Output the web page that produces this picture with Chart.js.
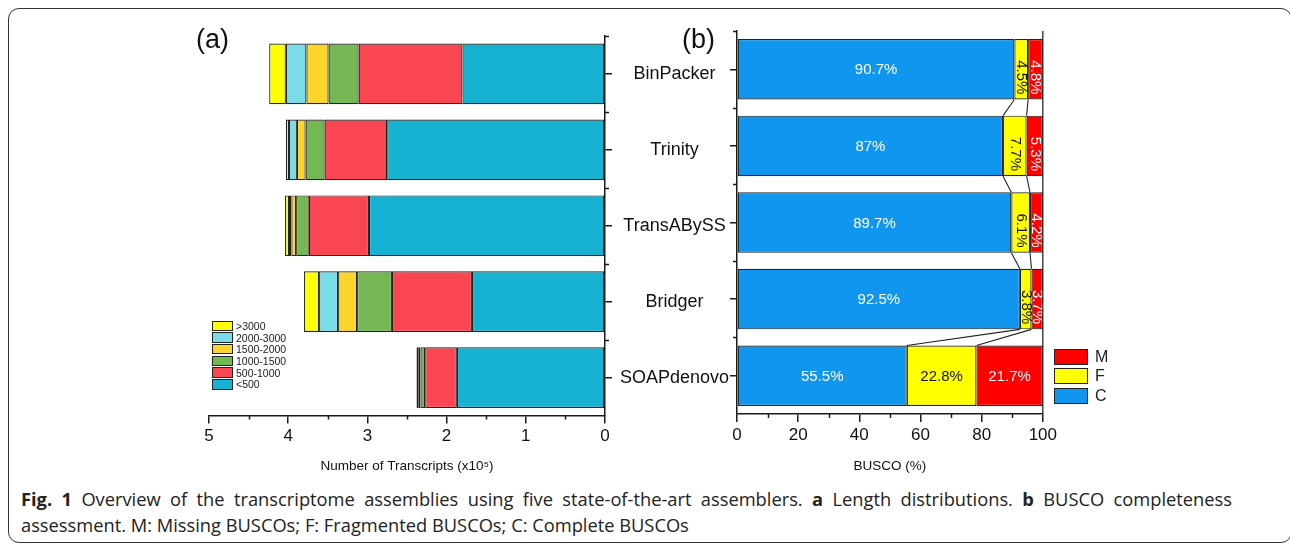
<!DOCTYPE html>
<html>
<head>
<meta charset="utf-8">
<script src="https://cdn.jsdelivr.net/npm/chart.js@4.4.1/dist/chart.umd.min.js"></script>
<style>
  html, body { margin: 0; padding: 0; background: #fff; }
  body { width: 1290px; height: 544px; position: relative; overflow: hidden;
         font-family: "Liberation Sans", Arial, sans-serif; color: #111; }
  .frame { position: absolute; left: 8px; top: 8px; width: 1284px; height: 535px;
           border: 1.6px solid #333; border-radius: 11px; box-sizing: border-box; }
  .chartbox { position: absolute; top: 0; }
  .panel-tag { position: absolute; font-size: 27px; line-height: 27px; color: #111; }
  .legend { position: absolute; }
  .legend .row { display: flex; align-items: center; }
  .legend .sw { box-sizing: border-box; border: 1.4px solid #222; }
  .caption { position: absolute; left: 21px; top: 486px; width: 1211px; font-family: "Open Sans", sans-serif;
             font-size: 18.3px; line-height: 26px; color: #222; text-align: justify; }
</style>
</head>
<body>
<div class="frame"></div>

<div class="chartbox" style="left:180px;width:560px;height:480px;"><canvas id="lenChart" width="560" height="480"></canvas></div>
<div class="chartbox" style="left:700px;width:360px;height:480px;"><canvas id="buscoChart" width="360" height="480"></canvas></div>

<div class="panel-tag" style="left:196px;top:26px;">(a)</div>
<div class="panel-tag" style="left:682px;top:26px;">(b)</div>

<div class="legend" id="lenLegend" style="left:212px;top:320px;"></div>
<div class="legend" id="buscoLegend" style="left:1054px;top:347px;"></div>

<div class="caption"><b>Fig. 1</b> Overview of the transcriptome assemblies using five state-of-the-art assemblers. <b>a</b> Length distributions. <b>b</b> BUSCO completeness assessment. M: Missing BUSCOs; F: Fragmented BUSCOs; C: Complete BUSCOs</div>

<script>
// ---- data ----
const assemblers = ['BinPacker', 'Trinity', 'TransABySS', 'Bridger', 'SOAPdenovo'];

// transcript counts per length bin (x10^5)
const lengthBins = ['<500', '500-1000', '1000-1500', '1500-2000', '2000-3000', '>3000'];
const lenUnder500   = [1.80, 2.75, 2.98, 1.68, 1.87];
const len500to1000  = [1.31, 0.79, 0.76, 1.01, 0.40];
const len1000to1500 = [0.38, 0.24, 0.16, 0.44, 0.06];
const len1500to2000 = [0.28, 0.11, 0.06, 0.24, 0.02];
const len2000to3000 = [0.26, 0.10, 0.03, 0.24, 0.01];
const lenOver3000   = [0.21, 0.04, 0.05, 0.19, 0.02];
const lenColors = ['#17b2d1', '#fa4652', '#75b752', '#fbd52c', '#7adce7', '#ffff00'];

// BUSCO completeness (%)
const buscoClasses = ['C', 'F', 'M'];
const buscoComplete   = [90.7, 87, 89.7, 92.5, 55.5];
const buscoFragmented = [4.5, 7.7, 6.1, 3.8, 22.8];
const buscoMissing    = [4.8, 5.3, 4.2, 3.7, 21.7];
const buscoColors = ['#1196f0', '#ffff00', '#ff0000'];
const buscoTextColors = ['#ffffff', '#111111', '#ffffff'];

const xTicksA = [0, 1, 2, 3, 4, 5];
const xTicksB = [0, 20, 40, 60, 80, 100];

// ---- shared styling ----
const AXIS = '#1a1a1a';
const FONT = '"Liberation Sans", Arial, sans-serif';
Chart.defaults.font.family = FONT;
Chart.defaults.color = '#111';

// short ticks between the labelled ones, on both axes
const minorTicks = {
  id: 'minorTicks',
  afterDraw(chart, args, opts) {
    const ctx = chart.ctx;
    ctx.save();
    ctx.strokeStyle = AXIS;
    ctx.lineWidth = 1.5;
    const xs = chart.scales.x;
    const vals = xs.ticks.map(t => t.value);
    for (let i = 0; i < vals.length - 1; i++) {
      const px = Math.round(xs.getPixelForValue((vals[i] + vals[i + 1]) / 2)) + 0.5;
      ctx.beginPath(); ctx.moveTo(px, xs.top); ctx.lineTo(px, xs.top + opts.len); ctx.stroke();
    }
    const ys = chart.scales.y;
    const n = ys.ticks.length;
    const edge = ys.position === 'right' ? ys.left : ys.right;
    const dir = ys.position === 'right' ? 1 : -1;
    const ca = chart.chartArea;
    const ps = [ca.top];
    for (let i = 0; i < n - 1; i++) ps.push((ys.getPixelForTick(i) + ys.getPixelForTick(i + 1)) / 2);
    ps.forEach(p => {
      const py = Math.round(p) + 0.5;
      ctx.beginPath(); ctx.moveTo(edge, py); ctx.lineTo(edge + dir * opts.len, py); ctx.stroke();
    });
    if (opts.rightEdge) {
      ctx.lineWidth = 1.2;
      ctx.beginPath(); ctx.moveTo(ca.right, ca.top); ctx.lineTo(ca.right, ca.bottom); ctx.stroke();
    }
    ctx.restore();
  }
};

function legendRows(el, labels, colors, cfg) {
  labels.forEach((lab, i) => {
    const row = document.createElement('div');
    row.className = 'row';
    row.style.height = cfg.pitch + 'px';
    const sw = document.createElement('div');
    sw.className = 'sw';
    sw.style.width = cfg.w + 'px';
    sw.style.height = cfg.h + 'px';
    sw.style.background = colors[i];
    const tx = document.createElement('span');
    tx.textContent = lab;
    tx.style.fontSize = cfg.font + 'px';
    tx.style.marginLeft = cfg.gap + 'px';
    tx.style.color = '#222';
    row.appendChild(sw); row.appendChild(tx);
    el.appendChild(row);
  });
}

// ---- (a) length distribution ----
const lenSeries = [lenUnder500, len500to1000, len1000to1500, len1500to2000, len2000to3000, lenOver3000];
new Chart(document.getElementById('lenChart'), {
  type: 'bar',
  data: {
    labels: assemblers,
    datasets: lenSeries.map((d, i) => ({
      label: lengthBins[i], data: d, backgroundColor: lenColors[i],
      borderColor: '#222', borderWidth: 1.2, borderSkipped: false,
      barPercentage: 0.8, categoryPercentage: 1
    }))
  },
  options: {
    indexAxis: 'y', responsive: false, animation: false,
    layout: { padding: { left: 29, top: 36, right: 0, bottom: 0 } },
    plugins: { legend: { display: false }, tooltip: { enabled: false }, minorTicks: { len: 4 } },
    scales: {
      x: {
        type: 'linear', min: 0, max: 5, reverse: true, stacked: true,
        afterBuildTicks: s => { s.ticks = xTicksA.map(v => ({ value: v })); },
        afterFit: s => { s.height = 64.5; },
        border: { display: true, color: AXIS, width: 1.5 },
        grid: { drawOnChartArea: false, drawTicks: true, tickLength: 8, color: AXIS, lineWidth: 1.5 },
        ticks: { font: { size: 17 }, color: '#111', padding: 3, maxRotation: 0 },
        title: { display: true, text: 'Number of Transcripts (x10\u2075)', font: { size: 13.5 }, color: '#111',
                 padding: { top: 0, bottom: 6 } }
      },
      y: {
        type: 'category', position: 'right', stacked: true, offset: true,
        afterFit: s => { s.width = 135; },
        border: { display: true, color: AXIS, width: 1.5 },
        grid: { offset: false, drawOnChartArea: false, drawTicks: true, tickLength: 7, color: AXIS, lineWidth: 1.5 },
        ticks: { crossAlign: 'center', font: { size: 18 }, color: '#111', padding: 8 }
      }
    }
  },
  plugins: [minorTicks]
});

// ---- (b) BUSCO ----
const buscoSeries = [buscoComplete, buscoFragmented, buscoMissing];

// value labels inside segments and the lines joining segment edges of neighbouring bars
const buscoDecor = {
  id: 'buscoDecor',
  afterDatasetsDraw(chart) {
    const ctx = chart.ctx;
    ctx.save();
    // connectors at the C|F and F|M boundaries
    ctx.strokeStyle = '#222';
    ctx.lineWidth = 1.1;
    [0, 1].forEach(di => {
      const els = chart.getDatasetMeta(di).data;
      for (let i = 0; i < els.length - 1; i++) {
        const a = els[i], b = els[i + 1];
        ctx.beginPath();
        ctx.moveTo(a.x, a.y + a.height / 2);
        ctx.lineTo(b.x, b.y - b.height / 2);
        ctx.stroke();
      }
    });
    // labels
    ctx.font = '15px ' + FONT;
    ctx.textAlign = 'center';
    ctx.textBaseline = 'middle';
    chart.data.datasets.forEach((ds, di) => {
      chart.getDatasetMeta(di).data.forEach((el, i) => {
        const txt = ds.data[i] + '%';
        const cx = (el.x + el.base) / 2;
        const w = Math.abs(el.x - el.base);
        ctx.fillStyle = buscoTextColors[di];
        if (w < 40) {
          ctx.save();
          ctx.translate(cx, el.y + 8);
          ctx.rotate(Math.PI / 2);
          ctx.fillText(txt, 0, 0);
          ctx.restore();
        } else {
          ctx.fillText(txt, cx, el.y + 1);
        }
      });
    });
    ctx.restore();
  }
};

new Chart(document.getElementById('buscoChart'), {
  type: 'bar',
  data: {
    labels: assemblers,
    datasets: buscoSeries.map((d, i) => ({
      label: buscoClasses[i], data: d, backgroundColor: buscoColors[i],
      borderColor: '#222', borderWidth: 1.2, borderSkipped: false,
      barPercentage: 0.79, categoryPercentage: 1
    }))
  },
  options: {
    indexAxis: 'y', responsive: false, animation: false,
    layout: { padding: { left: 37, top: 31, right: 15, bottom: 0 } },
    plugins: { legend: { display: false }, tooltip: { enabled: false }, minorTicks: { len: 4, rightEdge: true } },
    scales: {
      x: {
        type: 'linear', min: 0, max: 100, stacked: true,
        afterBuildTicks: s => { s.ticks = xTicksB.map(v => ({ value: v })); },
        afterFit: s => { s.height = 66; },
        border: { display: true, color: AXIS, width: 1.5 },
        grid: { drawOnChartArea: false, drawTicks: true, tickLength: 8, color: AXIS, lineWidth: 1.5 },
        ticks: { font: { size: 17 }, color: '#111', padding: 3, maxRotation: 0 },
        title: { display: true, text: 'BUSCO (%)', font: { size: 13.5 }, color: '#111',
                 padding: { top: 0, bottom: 6 } }
      },
      y: {
        type: 'category', position: 'left', stacked: true, offset: true,
        afterFit: s => { s.width = 0; },
        border: { display: true, color: AXIS, width: 1.5 },
        grid: { offset: false, drawOnChartArea: false, drawTicks: true, tickLength: 7, color: AXIS, lineWidth: 1.5 },
        ticks: { display: false }
      }
    }
  },
  plugins: [minorTicks, buscoDecor]
});

// ---- legends (top row is the outermost segment) ----
legendRows(document.getElementById('lenLegend'), lengthBins.slice().reverse(), lenColors.slice().reverse(),
  { w: 21, h: 10.5, pitch: 11.7, font: 10.5, gap: 3 });
legendRows(document.getElementById('buscoLegend'), buscoClasses.slice().reverse(), buscoColors.slice().reverse(),
  { w: 34, h: 16, pitch: 19.5, font: 16, gap: 7 });
</script>
</body>
</html>
